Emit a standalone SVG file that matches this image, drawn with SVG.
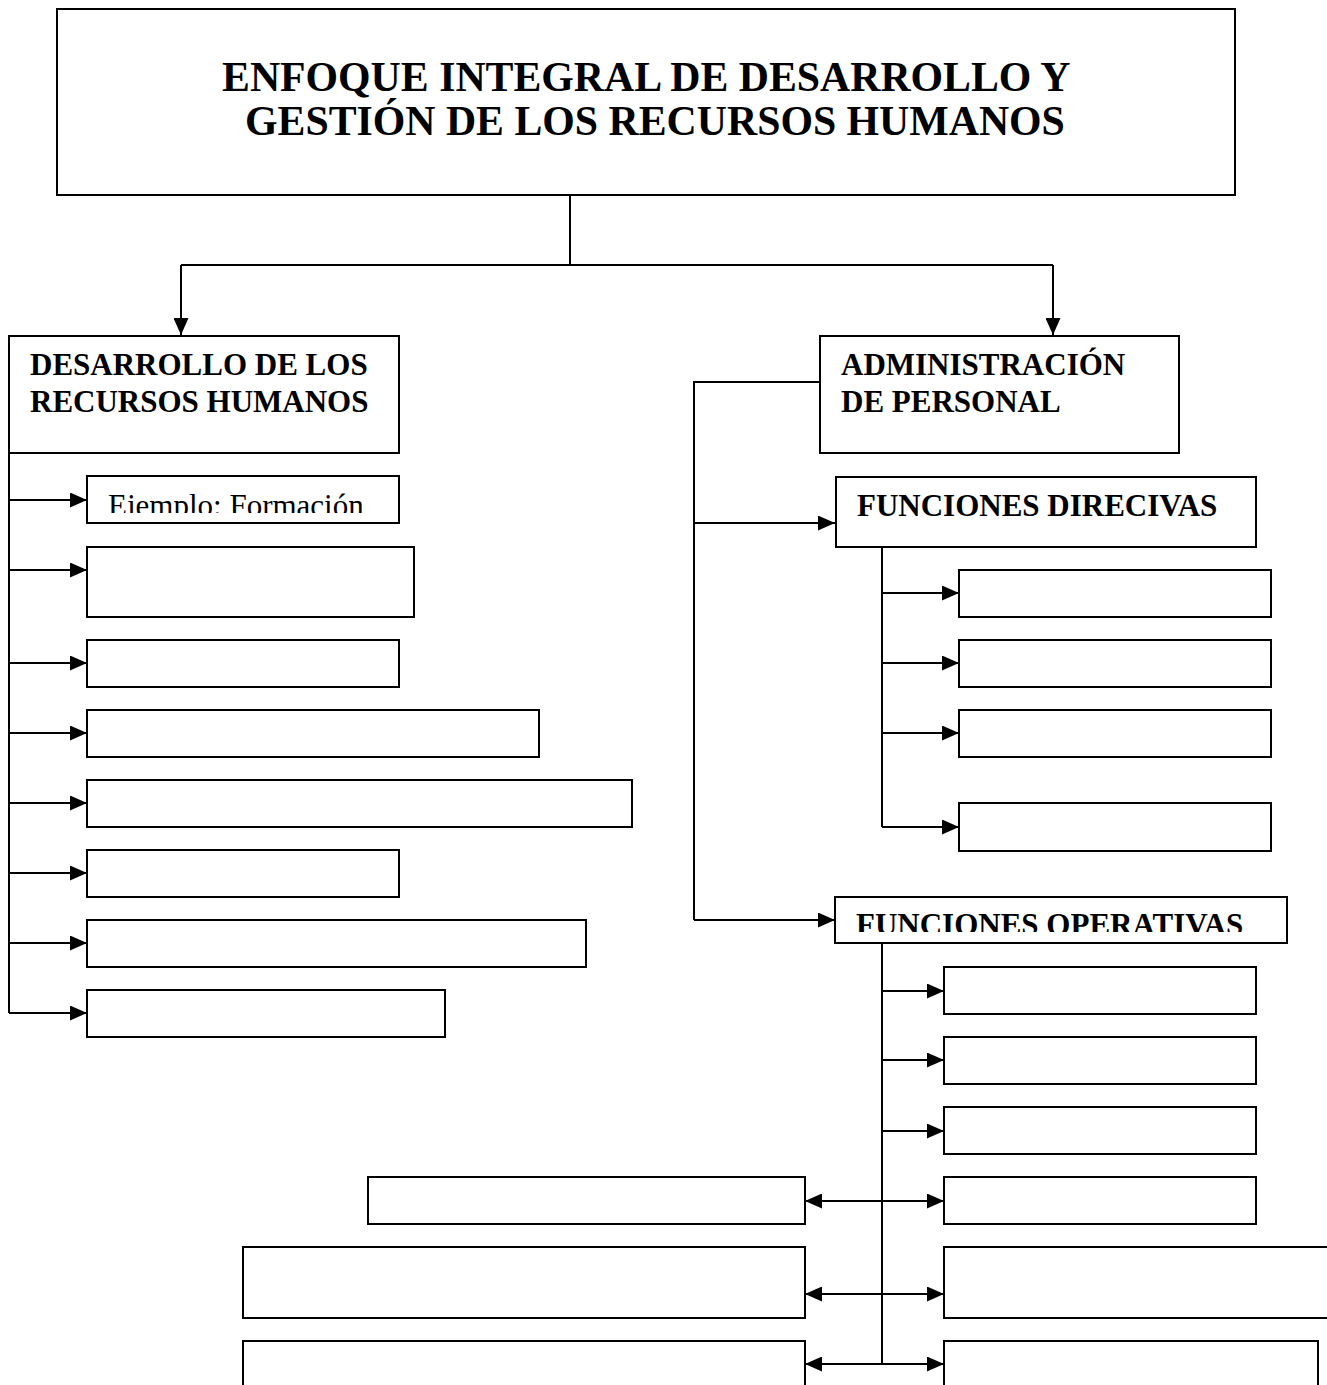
<svg xmlns="http://www.w3.org/2000/svg" width="1327" height="1385" viewBox="0 0 1327 1385">
<style>
.box{fill:#fff;stroke:#000;stroke-width:2}
.ln{fill:none;stroke:#000;stroke-width:2}
.t{font-family:"Liberation Serif","Times New Roman",serif;fill:#000}
.b{font-weight:bold}
</style>
<defs>
<marker id="ah" markerUnits="userSpaceOnUse" markerWidth="17" markerHeight="15" refX="17" refY="7.5" orient="auto">
<path d="M0,0 L17,7.5 L0,15 z" fill="#000"/>
</marker>
<marker id="ahs" markerUnits="userSpaceOnUse" markerWidth="17" markerHeight="15" refX="17" refY="7.5" orient="auto-start-reverse">
<path d="M0,0 L17,7.5 L0,15 z" fill="#000"/>
</marker>
<clipPath id="c1"><rect x="88" y="477" width="310" height="36"/></clipPath>
<clipPath id="c2"><rect x="836" y="898" width="450" height="34"/></clipPath>
</defs>
<rect width="1327" height="1385" fill="#fff"/>

<g id="connectors">
<path class="ln" d="M570,195 V265 M181,265 H1053"/>
<path class="ln" d="M181,265 V335" marker-end="url(#ah)"/>
<path class="ln" d="M1053,265 V335" marker-end="url(#ah)"/>
<path class="ln" d="M9,453 V1013"/>
<path class="ln" d="M9,500 H87" marker-end="url(#ah)"/>
<path class="ln" d="M9,570 H87" marker-end="url(#ah)"/>
<path class="ln" d="M9,663 H87" marker-end="url(#ah)"/>
<path class="ln" d="M9,733 H87" marker-end="url(#ah)"/>
<path class="ln" d="M9,803 H87" marker-end="url(#ah)"/>
<path class="ln" d="M9,873 H87" marker-end="url(#ah)"/>
<path class="ln" d="M9,943 H87" marker-end="url(#ah)"/>
<path class="ln" d="M9,1013 H87" marker-end="url(#ah)"/>
<path class="ln" d="M820,382 H694 V920"/>
<path class="ln" d="M694,523 H835" marker-end="url(#ah)"/>
<path class="ln" d="M694,920 H835" marker-end="url(#ah)"/>
<path class="ln" d="M882,547 V827"/>
<path class="ln" d="M882,593 H959" marker-end="url(#ah)"/>
<path class="ln" d="M882,663 H959" marker-end="url(#ah)"/>
<path class="ln" d="M882,733 H959" marker-end="url(#ah)"/>
<path class="ln" d="M882,827 H959" marker-end="url(#ah)"/>
<path class="ln" d="M882,943 V1364"/>
<path class="ln" d="M882,991 H944" marker-end="url(#ah)"/>
<path class="ln" d="M882,1060 H944" marker-end="url(#ah)"/>
<path class="ln" d="M882,1131 H944" marker-end="url(#ah)"/>
<path class="ln" d="M805,1201 H944" marker-start="url(#ahs)" marker-end="url(#ah)"/>
<path class="ln" d="M805,1294 H944" marker-start="url(#ahs)" marker-end="url(#ah)"/>
<path class="ln" d="M805,1364 H944" marker-start="url(#ahs)" marker-end="url(#ah)"/>
</g>

<g id="title">
<rect class="box" x="57" y="9" width="1178" height="186" stroke-width="2.5"/>
<text class="t b" x="222" y="91" font-size="41.8">ENFOQUE INTEGRAL DE DESARROLLO Y</text>
<text class="t b" x="245" y="135" font-size="41.8">GESTIÓN DE LOS RECURSOS HUMANOS</text>
</g>

<g id="desarrollo">
<rect class="box" x="9" y="336" width="390" height="117"/>
<text class="t b" x="30" y="375" font-size="31">DESARROLLO DE LOS</text>
<text class="t b" x="30" y="412" font-size="31">RECURSOS HUMANOS</text>
</g>
<g id="l1">
<rect class="box" x="87" y="476" width="312" height="47"/>
<text class="t" x="108" y="516" font-size="31" clip-path="url(#c1)">Ejemplo: Formación</text>
</g>
<g id="l2"><rect class="box" x="87" y="547" width="327" height="70"/></g>
<g id="l3"><rect class="box" x="87" y="640" width="312" height="47"/></g>
<g id="l4"><rect class="box" x="87" y="710" width="452" height="47"/></g>
<g id="l5"><rect class="box" x="87" y="780" width="545" height="47"/></g>
<g id="l6"><rect class="box" x="87" y="850" width="312" height="47"/></g>
<g id="l7"><rect class="box" x="87" y="920" width="499" height="47"/></g>
<g id="l8"><rect class="box" x="87" y="990" width="358" height="47"/></g>

<g id="administracion">
<rect class="box" x="820" y="336" width="359" height="117"/>
<text class="t b" x="841" y="375" font-size="31">ADMINISTRACIÓN</text>
<text class="t b" x="841" y="412" font-size="31">DE PERSONAL</text>
</g>
<g id="directivas">
<rect class="box" x="836" y="477" width="420" height="70"/>
<text class="t b" x="857" y="516" font-size="31">FUNCIONES DIRECIVAS</text>
</g>
<g id="d1"><rect class="box" x="959" y="570" width="312" height="47"/></g>
<g id="d2"><rect class="box" x="959" y="640" width="312" height="47"/></g>
<g id="d3"><rect class="box" x="959" y="710" width="312" height="47"/></g>
<g id="d4"><rect class="box" x="959" y="803" width="312" height="48"/></g>

<g id="operativas">
<rect class="box" x="835" y="897" width="452" height="46"/>
<text class="t b" x="856" y="935" font-size="31" clip-path="url(#c2)">FUNCIONES OPERATIVAS</text>
</g>
<g id="o1"><rect class="box" x="944" y="967" width="312" height="47"/></g>
<g id="o2"><rect class="box" x="944" y="1037" width="312" height="47"/></g>
<g id="o3"><rect class="box" x="944" y="1107" width="312" height="47"/></g>
<g id="o4"><rect class="box" x="944" y="1177" width="312" height="47"/></g>
<g id="o5"><rect class="box" x="944" y="1247" width="400" height="71"/></g>
<g id="o6"><rect class="box" x="944" y="1341" width="374" height="60"/></g>
<g id="p1"><rect class="box" x="368" y="1177" width="437" height="47"/></g>
<g id="p2"><rect class="box" x="243" y="1247" width="562" height="71"/></g>
<g id="p3"><rect class="box" x="243" y="1341" width="562" height="60"/></g>
</svg>
